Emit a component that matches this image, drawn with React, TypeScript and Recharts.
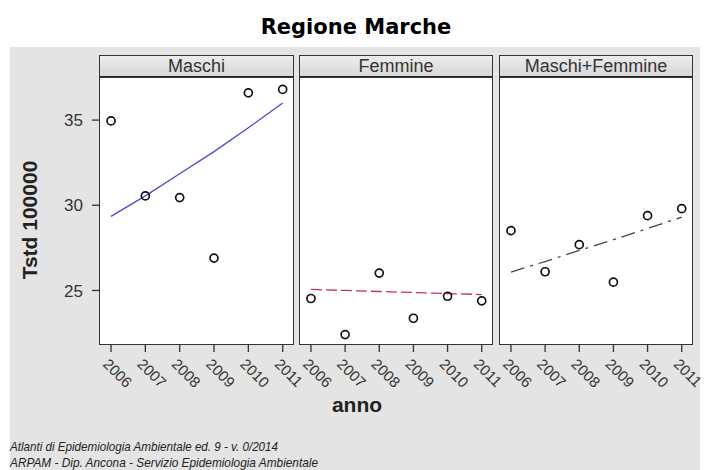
import React from 'react';
import { ComposedChart, Scatter, Line, XAxis, YAxis } from 'recharts';

const YEARS = [2006, 2007, 2008, 2009, 2010, 2011];
const PANEL_TITLES = ['Maschi', 'Femmine', 'Maschi+Femmine'];

// observed rates and fitted trend, per panel
const MASCHI = [34.95, 30.55, 30.45, 26.9, 36.6, 36.8];
const MASCHI_FIT = [29.35, 30.55, 31.85, 33.15, 34.55, 36.0];
const FEMMINE = [24.53, 22.41, 26.02, 23.37, 24.66, 24.39];
const FEMMINE_FIT = [25.06, 25.0, 24.94, 24.88, 24.82, 24.76];
const TOTALE = [28.51, 26.1, 27.69, 25.49, 29.39, 29.8];
const TOTALE_FIT = [26.08, 26.7, 27.35, 27.98, 28.64, 29.31];

const Y_TICKS = [25, 30, 35];
const Y_DOMAIN: [number, number] = [21.8, 37.47];
const X_DOMAIN: [number, number] = [2005.65, 2011.33];

const SERIES = [
  { obs: MASCHI, fit: MASCHI_FIT, color: '#4a4ad6', dash: undefined },
  { obs: FEMMINE, fit: FEMMINE_FIT, color: '#c8305c', dash: '11 4' },
  { obs: TOTALE, fit: TOTALE_FIT, color: '#444444', dash: '14 6 3 6' },
];

const PANEL_X = [
  { left: 99, right: 294 },
  { left: 299, right: 493 },
  { left: 499, right: 693 },
];
const PLOT_TOP = 78;
const PLOT_BOTTOM = 345;
const STRIP_TOP = 55;
const X_AXIS_H = 70;
const EXTRA_R = 40;

const FONT = '"Liberation Sans", Arial, sans-serif';

const XTick = (props: any) => {
  const { x, y, payload } = props;
  const ax = x - 9;
  const ay = y + 11;
  return (
    <text
      x={ax}
      y={ay}
      transform={`rotate(45 ${ax} ${ay})`}
      fontSize={15}
      fontFamily={FONT}
      fill="#333"
      textAnchor="start"
    >
      {payload.value}
    </text>
  );
};

const OpenCircle = (props: any) => {
  const { cx, cy } = props;
  if (cx == null || cy == null) return null;
  return <circle cx={cx} cy={cy} r={4} fill="none" stroke="#111" strokeWidth={1.7} />;
};

function Panel({ idx }: { idx: number }) {
  const s = SERIES[idx];
  const px = PANEL_X[idx];
  const yW = idx === 0 ? 99 : 0;
  const left = px.left - yW;
  const width = px.right - left + EXTRA_R;
  const height = PLOT_BOTTOM - PLOT_TOP + X_AXIS_H;
  const data = YEARS.map((anno, i) => ({ anno, val: s.obs[i], fit: s.fit[i] }));

  return (
    <div style={{ position: 'absolute', left, top: PLOT_TOP }}>
      <ComposedChart
        width={width}
        height={height}
        data={data}
        margin={{ top: 0, right: EXTRA_R, bottom: 0, left: 0 }}
      >
        <XAxis
          dataKey="anno"
          type="number"
          domain={X_DOMAIN}
          ticks={YEARS}
          interval={0}
          allowDataOverflow
          height={X_AXIS_H}
          axisLine={false}
          tickSize={7}
          tickLine={{ stroke: '#333', strokeWidth: 1.3 }}
          tick={<XTick />}
        />
        <YAxis
          type="number"
          domain={Y_DOMAIN}
          ticks={Y_TICKS}
          allowDataOverflow
          hide={idx !== 0}
          width={yW}
          axisLine={false}
          tickSize={7}
          tickMargin={9}
          tickLine={{ stroke: '#333', strokeWidth: 1.3 }}
          tick={{ fontSize: 17, fill: '#333', fontFamily: FONT }}
        />
        <Line
          dataKey="fit"
          type="linear"
          stroke={s.color}
          strokeWidth={1.3}
          strokeDasharray={s.dash}
          dot={false}
          activeDot={false}
          isAnimationActive={false}
        />
        <Scatter dataKey="val" shape={<OpenCircle />} isAnimationActive={false} />
      </ComposedChart>
    </div>
  );
}

export default function App() {
  return (
    <div
      style={{
        position: 'absolute',
        left: 0,
        top: 0,
        width: 707,
        height: 470,
        background: '#fff',
        overflow: 'hidden',
        fontFamily: FONT,
      }}
    >
      <div style={{ position: 'absolute', left: 10, top: 47, width: 690, height: 423, background: '#e4e4e4' }} />
      {PANEL_X.map((p, i) => (
        <React.Fragment key={'bg' + i}>
          <div
            style={{
              position: 'absolute',
              left: p.left,
              top: PLOT_TOP,
              width: p.right - p.left,
              height: PLOT_BOTTOM - PLOT_TOP,
              background: '#fff',
            }}
          />
          <div
            style={{
              position: 'absolute',
              left: p.left,
              top: STRIP_TOP,
              width: p.right - p.left,
              height: PLOT_TOP - STRIP_TOP,
              background: 'linear-gradient(#ececec, #d8d8d8)',
              boxSizing: 'border-box',
              border: '1.5px solid #333',
              borderBottom: '2px solid #222',
              textAlign: 'center',
              fontSize: 18,
              lineHeight: '20px',
              color: '#333',
            }}
          >
            {PANEL_TITLES[i]}
          </div>
        </React.Fragment>
      ))}
      {PANEL_X.map((_, i) => (
        <Panel key={'p' + i} idx={i} />
      ))}
      {PANEL_X.map((p, i) => (
        <div
          key={'bd' + i}
          style={{
            position: 'absolute',
            left: p.left,
            top: PLOT_TOP - 1,
            width: p.right - p.left,
            height: PLOT_BOTTOM - PLOT_TOP + 1,
            boxSizing: 'border-box',
            border: '1.5px solid #333',
            pointerEvents: 'none',
          }}
        />
      ))}
      <svg width={707} height={470} style={{ position: 'absolute', left: 0, top: 0, pointerEvents: 'none' }}>
        <text
          x={356}
          y={34}
          textAnchor="middle"
          fontFamily='"DejaVu Sans", Verdana, sans-serif'
          fontWeight="bold"
          fontSize={21}
          fill="#000"
        >
          Regione Marche
        </text>
        <text
          x={37}
          y={220}
          transform="rotate(-90 37 220)"
          textAnchor="middle"
          fontFamily={FONT}
          fontWeight="bold"
          fontSize={21}
          fill="#222"
        >
          Tstd 100000
        </text>
        <text x={357} y={412} textAnchor="middle" fontFamily={FONT} fontWeight="bold" fontSize={21} fill="#222">
          anno
        </text>
        <text
          x={10}
          y={451}
          fontFamily={FONT}
          fontStyle="italic"
          fontSize={13.5}
          textLength={268}
          lengthAdjust="spacingAndGlyphs"
          fill="#222"
        >
          Atlanti di Epidemiologia Ambientale ed. 9 - v. 0/2014
        </text>
        <text
          x={10}
          y={467}
          fontFamily={FONT}
          fontStyle="italic"
          fontSize={13.5}
          textLength={308}
          lengthAdjust="spacingAndGlyphs"
          fill="#222"
        >
          ARPAM - Dip. Ancona - Servizio Epidemiologia Ambientale
        </text>
      </svg>
    </div>
  );
}
